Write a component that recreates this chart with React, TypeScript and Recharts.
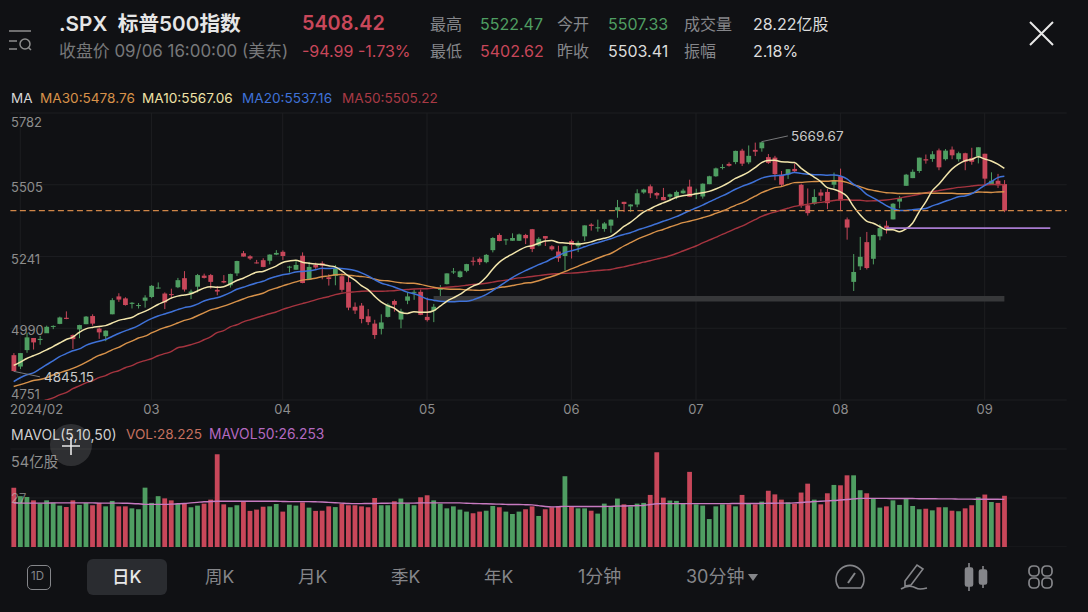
import React from 'react';
import { Bar, CartesianGrid, Cell, ComposedChart, Line, ReferenceLine, XAxis, YAxis } from 'recharts';

const opens = [
  4899, 4861, 4916, 4957, 4950, 4973, 4995, 5005, 5026, 4967,
  4986, 5004, 5032, 4989, 4963, 5038, 5100, 5093, 5074, 5067,
  5085, 5098, 5131, 5110, 5108, 5132, 5164, 5111, 5134, 5173,
  5175, 5123, 5154, 5139, 5181, 5253, 5242, 5220, 5228, 5226,
  5248, 5258, 5204, 5194, 5244, 5158, 5211, 5217, 5167, 5172,
  5171, 5150, 5064, 5068, 5031, 5006, 4988, 5029, 5084, 5020,
  5085, 5114, 5116, 5029, 5050, 5123, 5143, 5187, 5168, 5190,
  5226, 5233, 5221, 5264, 5319, 5302, 5298, 5298, 5319, 5340,
  5281, 5315, 5278, 5259, 5243, 5297, 5278, 5314, 5357, 5343,
  5341, 5353, 5409, 5441, 5424, 5431, 5476, 5499, 5474, 5459,
  5460, 5460, 5473, 5498, 5471, 5461, 5507, 5537, 5572, 5584,
  5591, 5635, 5590, 5638, 5644, 5610, 5608, 5543, 5544, 5565,
  5505, 5428, 5434, 5476, 5478, 5505, 5537, 5376, 5151, 5206,
  5293, 5233, 5314, 5353, 5376, 5442, 5501, 5530, 5557, 5602,
  5603, 5636, 5602, 5639, 5602, 5625, 5607, 5613, 5623, 5506,
  5520, 5507.33,
];
const highs = [
  4906, 4906, 4975, 4957, 4964, 4999, 5000, 5030, 5048, 4969,
  5002, 5032, 5038, 4993, 4983, 5094, 5111, 5097, 5080, 5077,
  5104, 5140, 5149, 5114, 5127, 5165, 5189, 5124, 5179, 5180,
  5179, 5136, 5175, 5180, 5226, 5261, 5246, 5229, 5235, 5249,
  5264, 5263, 5208, 5229, 5256, 5222, 5219, 5224, 5178, 5211,
  5181, 5168, 5079, 5077, 5056, 5019, 5038, 5076, 5089, 5057,
  5114, 5124, 5124, 5096, 5074, 5140, 5181, 5200, 5191, 5215,
  5239, 5238, 5250, 5311, 5325, 5305, 5325, 5324, 5323, 5341,
  5311, 5315, 5282, 5280, 5280, 5302, 5298, 5354, 5362, 5375,
  5366, 5376, 5448, 5441, 5432, 5488, 5490, 5506, 5478, 5493,
  5472, 5483, 5490, 5524, 5490, 5510, 5539, 5570, 5583, 5590,
  5635, 5642, 5655, 5666, 5669.67, 5622, 5615, 5557, 5564, 5585,
  5509, 5491, 5488, 5488, 5489, 5551, 5566, 5383, 5250, 5312,
  5330, 5320, 5358, 5371, 5436, 5463, 5546, 5563, 5608, 5620,
  5633, 5643, 5641, 5651, 5631, 5627, 5646, 5648, 5623, 5552,
  5546, 5522.47,
];
const lows = [
  4845.15, 4853, 4907, 4918, 4934, 4974, 4987, 5004, 5021, 4920,
  4956, 5004, 4999, 4954, 4946, 5038, 5081, 5068, 5058, 5058,
  5061, 5094, 5127, 5056, 5092, 5129, 5117, 5091, 5114, 5163,
  5127, 5104, 5146, 5131, 5172, 5241, 5229, 5216, 5203, 5213,
  5246, 5229, 5184, 5194, 5146, 5157, 5197, 5160, 5138, 5139,
  5116, 5052, 5039, 5007, 5001, 4954, 4969, 5027, 5047, 4990,
  5073, 5088, 5035, 5013, 5011, 5100, 5142, 5179, 5165, 5185,
  5209, 5211, 5217, 5256, 5296, 5283, 5298, 5297, 5286, 5257,
  5278, 5279, 5262, 5222, 5191, 5234, 5257, 5297, 5335, 5331,
  5331, 5327, 5382, 5403, 5403, 5421, 5471, 5455, 5452, 5447,
  5446, 5451, 5471, 5460, 5451, 5453, 5507, 5535, 5563, 5574,
  5583, 5576, 5583, 5614, 5631, 5584, 5522, 5497, 5527, 5550,
  5419, 5390, 5430, 5444, 5414, 5493, 5410, 5302, 5119, 5193,
  5195, 5213, 5300, 5324, 5376, 5417, 5501, 5530, 5550, 5585,
  5592, 5560, 5597, 5602, 5593, 5560, 5581, 5586, 5504, 5504,
  5493, 5402.62,
];
const closes = [
  4846, 4906, 4959, 4942, 4954, 4995, 4998, 5027, 5022, 4953,
  5001, 5030, 5006, 4976, 4982, 5087, 5089, 5070, 5078, 5070,
  5096, 5137, 5131, 5079, 5105, 5157, 5124, 5117, 5175, 5165,
  5151, 5117, 5149, 5179, 5225, 5241, 5234, 5218, 5204, 5248,
  5254, 5243, 5205, 5211, 5147, 5204, 5202, 5209, 5161, 5199,
  5123, 5061, 5051, 5022, 5011, 4967, 5010, 5071, 5071, 5048,
  5100, 5116, 5036, 5018, 5064, 5128, 5181, 5188, 5188, 5214,
  5223, 5221, 5247, 5308, 5297, 5303, 5308, 5321, 5307, 5268,
  5305, 5306, 5267, 5235, 5278, 5283, 5291, 5354, 5352, 5347,
  5361, 5375, 5421, 5433, 5431, 5473, 5487, 5473, 5465, 5447,
  5469, 5478, 5483, 5460, 5475, 5509, 5537, 5567, 5572, 5577,
  5634, 5585, 5615, 5631, 5667, 5588, 5545, 5505, 5564, 5556,
  5427, 5399, 5459, 5464, 5436, 5522, 5446, 5346, 5186, 5240,
  5200, 5319, 5344, 5344, 5434, 5455, 5543, 5554, 5608, 5597,
  5621, 5571, 5635, 5617, 5625, 5592, 5592, 5648, 5528, 5520,
  5503, 5408.42,
];
const ma10 = [
  4865, 4876, 4888, 4897, 4906, 4917, 4928, 4940, 4952, 4960,
  4976, 4988, 4993, 4996, 4999, 5008, 5017, 5022, 5027, 5039,
  5048, 5059, 5072, 5082, 5094, 5101, 5105, 5109, 5119, 5129,
  5134, 5132, 5134, 5144, 5156, 5164, 5175, 5185, 5188, 5197,
  5207, 5220, 5225, 5228, 5221, 5217, 5214, 5213, 5208, 5204,
  5190, 5172, 5157, 5138, 5124, 5101, 5081, 5068, 5059, 5044,
  5041, 5047, 5045, 5045, 5050, 5066, 5083, 5095, 5107, 5123,
  5136, 5146, 5167, 5196, 5220, 5237, 5250, 5263, 5275, 5280,
  5289, 5297, 5299, 5292, 5290, 5288, 5286, 5289, 5294, 5302,
  5307, 5314, 5330, 5350, 5365, 5384, 5403, 5415, 5427, 5437,
  5447, 5458, 5464, 5467, 5471, 5475, 5480, 5489, 5500, 5513,
  5529, 5540, 5553, 5570, 5589, 5597, 5598, 5592, 5591, 5589,
  5568, 5550, 5534, 5517, 5494, 5488, 5478, 5462, 5424, 5393,
  5370, 5362, 5350, 5338, 5338, 5331, 5341, 5362, 5404, 5440,
  5482, 5507, 5536, 5564, 5583, 5596, 5601, 5611, 5603, 5595,
  5583, 5567.06,
];
const ma20 = [
  4811, 4824, 4834, 4840, 4853, 4867, 4880, 4894, 4904, 4914,
  4920, 4932, 4940, 4946, 4952, 4962, 4972, 4981, 4989, 4999,
  5012, 5023, 5032, 5039, 5046, 5054, 5061, 5065, 5073, 5084,
  5091, 5095, 5103, 5113, 5125, 5132, 5140, 5147, 5153, 5163,
  5170, 5176, 5180, 5186, 5188, 5190, 5194, 5199, 5198, 5200,
  5198, 5196, 5191, 5183, 5172, 5159, 5147, 5140, 5133, 5124,
  5115, 5109, 5101, 5091, 5087, 5083, 5082, 5081, 5083, 5083,
  5088, 5096, 5106, 5120, 5135, 5151, 5166, 5179, 5191, 5201,
  5212, 5221, 5233, 5244, 5255, 5262, 5268, 5276, 5284, 5291,
  5298, 5305, 5314, 5321, 5327, 5336, 5344, 5352, 5360, 5369,
  5377, 5386, 5397, 5408, 5418, 5429, 5441, 5452, 5463, 5475,
  5488, 5499, 5508, 5518, 5530, 5536, 5539, 5540, 5545, 5551,
  5548, 5545, 5543, 5543, 5541, 5542, 5538, 5527, 5507, 5491,
  5469, 5456, 5442, 5427, 5416, 5409, 5409, 5412, 5414, 5416,
  5426, 5434, 5443, 5451, 5460, 5463, 5471, 5486, 5503, 5517,
  5532, 5537.16,
];
const ma30 = [
  4795, 4801, 4808, 4815, 4818, 4824, 4833, 4840, 4847, 4855,
  4864, 4875, 4887, 4898, 4906, 4917, 4925, 4937, 4946, 4957,
  4963, 4974, 4984, 4992, 4999, 5008, 5017, 5023, 5033, 5043,
  5053, 5059, 5066, 5074, 5083, 5091, 5099, 5105, 5111, 5122,
  5129, 5137, 5144, 5151, 5157, 5160, 5164, 5169, 5172, 5176,
  5177, 5175, 5172, 5170, 5167, 5161, 5156, 5155, 5151, 5148,
  5146, 5146, 5142, 5137, 5132, 5128, 5126, 5125, 5125, 5123,
  5122, 5121, 5123, 5126, 5131, 5134, 5138, 5142, 5147, 5149,
  5155, 5163, 5170, 5178, 5187, 5197, 5206, 5216, 5225, 5235,
  5244, 5252, 5265, 5279, 5291, 5303, 5313, 5322, 5332, 5339,
  5348, 5356, 5364, 5369, 5375, 5382, 5389, 5398, 5407, 5417,
  5428, 5437, 5449, 5462, 5475, 5485, 5494, 5498, 5506, 5513,
  5514, 5516, 5517, 5518, 5518, 5520, 5519, 5514, 5505, 5498,
  5489, 5484, 5479, 5475, 5474, 5472, 5472, 5472, 5473, 5474,
  5473, 5473, 5473, 5473, 5471, 5471, 5473, 5478, 5477, 5476,
  5478, 5478.76,
];
const ma50 = [
  4722, 4728, 4735, 4741, 4745, 4751, 4758, 4768, 4775, 4788,
  4797, 4807, 4814, 4824, 4831, 4841, 4847, 4857, 4864, 4874,
  4881, 4887, 4897, 4904, 4911, 4924, 4928, 4934, 4941, 4951,
  4961, 4975, 4982, 4995, 5002, 5012, 5019, 5026, 5033, 5040,
  5046, 5055, 5062, 5069, 5075, 5081, 5088, 5094, 5099, 5106,
  5111, 5114, 5116, 5118, 5119, 5118, 5118, 5119, 5120, 5123,
  5124, 5126, 5127, 5127, 5129, 5130, 5132, 5134, 5136, 5139,
  5142, 5143, 5146, 5150, 5154, 5157, 5161, 5165, 5167, 5170,
  5173, 5176, 5179, 5180, 5181, 5182, 5183, 5186, 5189, 5191,
  5193, 5195, 5200, 5204, 5210, 5215, 5221, 5226, 5232, 5237,
  5244, 5252, 5261, 5270, 5279, 5290, 5300, 5310, 5321, 5331,
  5342, 5351, 5363, 5375, 5387, 5396, 5403, 5410, 5417, 5424,
  5428, 5432, 5436, 5439, 5442, 5446, 5449, 5449, 5447, 5447,
  5444, 5445, 5446, 5448, 5451, 5455, 5460, 5464, 5469, 5474,
  5479, 5483, 5487, 5491, 5495, 5497, 5500, 5503, 5504, 5506,
  5506, 5505.22,
];
const volumes = [
  32.7, 28, 27.6, 25.7, 23.9, 25.7, 24.4, 22.8, 22, 25.7,
  23.2, 24.3, 23, 24.3, 22.4, 25.4, 22.4, 22.4, 21.3, 20.8,
  32.7, 24.3, 28, 26.8, 25.7, 23.9, 23.9, 21.9, 22.8, 23.9,
  26.1, 51.1, 23.5, 21.9, 23, 24.8, 19.9, 20.6, 22.2, 22.4,
  23.7, 19.5, 23.3, 22.8, 24.6, 21.7, 19.9, 20, 22.4, 22,
  23.9, 23, 23, 22.4, 21.9, 27, 23, 23, 25.2, 26.7,
  23.9, 23, 27.4, 28.5, 25.7, 23.9, 21.3, 22.4, 20.6, 19.5,
  18.6, 19.5, 20, 22.6, 21.9, 19.5, 18.2, 19.5, 20.8, 22.4,
  17.1, 20.8, 21.9, 22.4, 39, 22.4, 21.3, 21.3, 20, 18.4,
  23.9, 22.4, 26.7, 23.5, 22.4, 23.9, 24.3, 28.7, 52.2, 27.2,
  25.6, 25.4, 23.7, 41.4, 23.5, 22.8, 15.4, 22.4, 23.5, 23.5,
  22.4, 28.7, 23.9, 23.5, 25, 31, 29, 26.1, 24.6, 23.9,
  30, 34.9, 26.1, 23.5, 29.6, 34.2, 34, 39.5, 39.5, 31.3,
  29.6, 26.8, 21.7, 22.4, 25.7, 23.2, 26.7, 22.6, 20.8, 21.1,
  20.2, 21.9, 21.9, 20, 19.7, 21.3, 23, 27.4, 28.9, 24.8,
  24.3, 28.225,
];
const mavol50 = [
  24.2, 24.2, 24.2, 24.2, 24.2, 24.2, 24.3, 24.3, 24.3, 24.3,
  24.3, 24.3, 24.3, 24.2, 24.2, 24.2, 24.2, 24.1, 24, 23.8,
  23.5, 23.5, 23.5, 23.5, 23.6, 23.8, 24, 24.3, 24.6, 24.9,
  25.1, 25.2, 25.2, 25.2, 25.2, 25.2, 25.2, 25.2, 25.2, 25.2,
  25.2, 25.1, 25, 25, 25, 25, 24.9, 24.8, 24.6, 24.4,
  24.2, 24, 23.9, 23.9, 24, 24, 24.1, 24.1, 24.2, 24.2,
  24.2, 24.2, 24.3, 24.3, 24.3, 24.3, 24.3, 24.3, 24.3, 24.1,
  24, 23.9, 23.8, 23.7, 23.6, 23.5, 23.4, 23.4, 23.3, 23.2,
  22.8, 22.3, 22.1, 22.2, 22.4, 22.4, 22.3, 22.3, 22.3, 22.3,
  22.3, 22.4, 22.5, 22.6, 22.7, 22.8, 22.9, 23.4, 23.8, 23.9,
  23.9, 23.9, 23.9, 23.9, 23.9, 23.9, 23.9, 23.9, 23.9, 23.9,
  24, 24, 24, 24, 24, 24.1, 24.1, 24.2, 24.2, 24.3,
  24.5, 24.8, 25, 25.2, 25.4, 25.6, 25.9, 26.2, 26.5, 26.8,
  26.8, 26.8, 26.8, 26.8, 26.7, 26.7, 26.7, 26.7, 26.6, 26.6,
  26.6, 26.5, 26.5, 26.5, 26.4, 26.4, 26.4, 26.3, 26.3, 26.3,
  26.3, 26.253,
];

const emptySlots = 9;
const monthTicks = [1, 21, 41, 63, 85, 104, 126, 148];
const monthLabels = ['2024/02', '03', '04', '05', '06', '07', '08', '09'];
const priceTicks = [5782, 5505, 5241, 4990, 4751];
const volumeTicks = [54, 27, 0];
const lastPrice = 5408.42;

const BG = '#101114';
const GRID = '#1d1e21';
const UP = '#4f9e62';
const DOWN = '#c8475a';

const priceData = Array.from({ length: closes.length + emptySlots }, (_, i) =>
  i < closes.length
    ? { i, open: opens[i], close: closes[i], range: [lows[i], highs[i]], ma10: ma10[i], ma20: ma20[i], ma30: ma30[i], ma50: ma50[i] }
    : { i },
);
const volumeData = Array.from({ length: closes.length + emptySlots }, (_, i) =>
  i < closes.length ? { i, vol: volumes[i], mavol50: mavol50[i] } : { i },
);

const Candle = (props: any) => {
  const { x, y, width, height, payload } = props;
  if (!payload || payload.open === undefined || !height) return null;
  const [low, high] = payload.range;
  // price axis is logarithmic, so body edges are placed on the same log scale
  const pos = (v: number) => y + (height * (Math.log(high) - Math.log(v))) / (Math.log(high) - Math.log(low));
  const color = payload.close >= payload.open ? UP : DOWN;
  const cx = x + width / 2;
  const top = pos(Math.max(payload.open, payload.close));
  const bottom = pos(Math.min(payload.open, payload.close));
  return (
    <g>
      <line x1={cx} x2={cx} y1={y} y2={y + height} stroke={color} strokeWidth={1} />
      <rect x={cx - 2.4} y={top} width={4.8} height={Math.max(bottom - top, 1)} fill={color} />
    </g>
  );
};

const MonthTick = ({ x, payload, index }: any) => (
  <text
    x={index === 0 ? 10 : x}
    y={409}
    textAnchor={index === 0 ? 'start' : 'middle'}
    dominantBaseline="central"
    fontSize={13}
    fill="#8d8d8d"
  >
    {monthLabels[monthTicks.indexOf(payload.value)]}
  </text>
);

const PriceTick = ({ y, payload }: any) => {
  const shift = payload.value === 5782 ? 9 : payload.value === 4751 ? -6 : 2;
  return (
    <text x={11} y={y + shift} dominantBaseline="central" fontSize={13} fill="#8d8d8d">
      {payload.value}
    </text>
  );
};

// 27 sits over the bars in the reference, the axis layer is under them, so it goes in the overlay below
const VolumeTick = ({ y, payload }: any) => {
  if (payload.value !== 54) return null;
  return (
    <text x={11} y={y + 12} dominantBaseline="central" fontSize={14.5} fill="#8d8d8d">
      54亿股
    </text>
  );
};

const Txt = ({ x, y, color, size = 16, weight = 400, children }: any) => (
  <div
    style={{
      position: 'absolute',
      left: x,
      top: y,
      transform: 'translateY(-50%)',
      color,
      fontSize: size,
      fontWeight: weight,
      whiteSpace: 'pre',
      lineHeight: 1,
    }}
  >
    {children}
  </div>
);

const Header = () => (
  <>
    <svg style={{ position: 'absolute', left: 8, top: 28 }} width={26} height={26} fill="none" stroke="#8d8d8d" strokeWidth={1.5}>
      <path d="M1 3H23M1 13H9M1 21H9" />
      <circle cx={17} cy={16} r={5} />
      <path d="M20.5 19.5L23 22" />
    </svg>
    <Txt x={59} y={24} color="#e6e6e6" size={20.7} weight={600}>.SPX  标普500指数</Txt>
    <Txt x={302} y={24} color={DOWN} size={19.8} weight={600}>5408.42</Txt>
    <Txt x={59} y={51} color="#77787a" size={16.9}>收盘价 09/06 16:00:00 (美东)</Txt>
    <Txt x={302} y={51} color={DOWN} size={16}>-94.99 -1.73%</Txt>
    <Txt x={430} y={24} color="#85868a">最高</Txt>
    <Txt x={480} y={24} color={UP}>5522.47</Txt>
    <Txt x={430} y={51} color="#85868a">最低</Txt>
    <Txt x={480} y={51} color={DOWN}>5402.62</Txt>
    <Txt x={557} y={24} color="#85868a">今开</Txt>
    <Txt x={608} y={24} color={UP}>5507.33</Txt>
    <Txt x={557} y={51} color="#85868a">昨收</Txt>
    <Txt x={608} y={51} color="#dcdcdc">5503.41</Txt>
    <Txt x={684} y={24} color="#85868a">成交量</Txt>
    <Txt x={753} y={24} color="#dcdcdc">28.22亿股</Txt>
    <Txt x={684} y={51} color="#85868a">振幅</Txt>
    <Txt x={753} y={51} color="#dcdcdc">2.18%</Txt>
    <svg style={{ position: 'absolute', left: 1029, top: 21 }} width={25} height={25} stroke="#e8e8e8" strokeWidth={2}>
      <path d="M1 1L24 24M24 1L1 24" />
    </svg>
    <Txt x={11} y={99} color="#d6d6d6" size={13.5}>MA</Txt>
    <Txt x={40} y={99} color="#d8924a" size={13.6}>MA30:5478.76</Txt>
    <Txt x={142} y={99} color="#efe2a6" size={13.6}>MA10:5567.06</Txt>
    <Txt x={242} y={99} color="#3f72d8" size={13.6}>MA20:5537.16</Txt>
    <Txt x={342} y={99} color="#a83a45" size={13.6}>MA50:5505.22</Txt>
    <Txt x={791} y={137} color="#c9c9c9" size={13.5}>5669.67</Txt>
    <Txt x={44} y={378} color="#c9c9c9" size={13.5}>4845.15</Txt>
    <Txt x={11} y={435} color="#cfcfcf" size={14}>MAVOL(5,10,50)</Txt>
    <Txt x={126} y={435} color="#c4705f" size={13.6}>VOL:28.225</Txt>
    <Txt x={209} y={435} color="#b469c0" size={13.8}>MAVOL50:26.253</Txt>
    <Txt x={11} y={498} color="rgba(190,190,190,0.6)" size={13}>27</Txt>
  </>
);

const Footer = () => (
  <>
    <div style={{ position: 'absolute', left: 27, top: 565, width: 22, height: 23, border: '1.5px solid #85868a', borderRadius: 5 }} />
    <Txt x={31} y={577} color="#85868a" size={11.5}>1D</Txt>
    <div style={{ position: 'absolute', left: 87, top: 559, width: 80, height: 36, background: '#2a2c30', borderRadius: 6 }} />
    <Txt x={112} y={577} color="#e8e8e8" size={17.5} weight={500}>日K</Txt>
    <Txt x={205} y={577} color="#85868a" size={17.5}>周K</Txt>
    <Txt x={298} y={577} color="#85868a" size={17.5}>月K</Txt>
    <Txt x={391} y={577} color="#85868a" size={17.5}>季K</Txt>
    <Txt x={484} y={577} color="#85868a" size={17.5}>年K</Txt>
    <Txt x={578} y={577} color="#85868a" size={18}>1分钟</Txt>
    <Txt x={686} y={577} color="#85868a" size={18}>30分钟</Txt>
    <svg style={{ position: 'absolute', left: 747, top: 574 }} width={12} height={8} fill="#85868a">
      <path d="M1 0H11L6 7Z" />
    </svg>
    <svg style={{ position: 'absolute', left: 834, top: 562 }} width={32} height={30} fill="none" stroke="#85868a" strokeWidth={1.6}>
      <path d="M5 26A14 14 0 1 1 27 26H5Z" />
      <path d="M14 21L21 11" strokeWidth={2} />
    </svg>
    <svg style={{ position: 'absolute', left: 899, top: 562 }} width={30} height={30} fill="none" stroke="#85868a" strokeWidth={1.6}>
      <path d="M6 19L18 3L24 7L12 23L6 24Z" />
      <path d="M2 27C8 23 14 24 17 26C20 28 24 27 28 26" />
    </svg>
    <svg style={{ position: 'absolute', left: 963, top: 562 }} width={28} height={30} fill="#85868a" stroke="#85868a" strokeWidth={1.6}>
      <path d="M6 1V29M20 4V26" />
      <rect x={2.5} y={6} width={7} height={18} rx={1.5} />
      <rect x={16.5} y={8} width={7} height={14} rx={1.5} />
    </svg>
    <svg style={{ position: 'absolute', left: 1027, top: 564 }} width={27} height={26} fill="none" stroke="#85868a" strokeWidth={1.7}>
      <rect x={2} y={2} width={10} height={10} rx={4} />
      <rect x={15} y={2} width={10} height={10} rx={4} />
      <rect x={2} y={14} width={10} height={10} rx={4} />
      <rect x={15} y={14} width={10} height={10} rx={4} />
    </svg>
  </>
);

export default function App() {
  return (
    <div
      style={{
        position: 'absolute',
        left: 0,
        top: 0,
        width: 1088,
        height: 612,
        overflow: 'hidden',
        background: BG,
        fontFamily: 'Inter, "Noto Sans CJK SC", sans-serif',
      }}
    >
      <div style={{ position: 'absolute', left: 0, top: 0 }}>
        <ComposedChart
          width={1088}
          height={420}
          data={priceData}
          barCategoryGap={0}
          margin={{ top: 113, left: 9.4, right: 21.3, bottom: 0 }}
        >
          <CartesianGrid stroke={GRID} syncWithTicks />
          <XAxis dataKey="i" ticks={monthTicks} interval={0} height={20} axisLine={false} tickLine={false} tick={<MonthTick />} />
          <YAxis
            scale="log"
            domain={[4751, 5782]}
            ticks={priceTicks}
            interval={0}
            allowDataOverflow
            width={1}
            axisLine={false}
            tickLine={false}
            tick={<PriceTick />}
          />
          <ReferenceLine segment={[{ x: 64, y: 5092 }, { x: 151, y: 5092 }]} stroke="#37383a" strokeWidth={5.5} />
          <Bar dataKey="range" shape={<Candle />} isAnimationActive={false} />
          <Line dataKey="ma50" stroke="#a5343f" strokeWidth={1.4} dot={false} type="monotone" isAnimationActive={false} />
          <Line dataKey="ma30" stroke="#d8924a" strokeWidth={1.4} dot={false} type="monotone" isAnimationActive={false} />
          <Line dataKey="ma20" stroke="#3f72d8" strokeWidth={1.5} dot={false} type="monotone" isAnimationActive={false} />
          <Line dataKey="ma10" stroke="#f3e6ac" strokeWidth={1.5} dot={false} type="monotone" isAnimationActive={false} />
          <ReferenceLine y={lastPrice} stroke="#d08648" strokeWidth={1.2} strokeDasharray="6 3.5" />
          <ReferenceLine segment={[{ x: 133, y: 5344 }, { x: 158, y: 5344 }]} stroke="#a87bd0" strokeWidth={1.6} />
          <ReferenceLine segment={[{ x: 114, y: 5669.67 }, { x: 118, y: 5692 }]} stroke="#77787a" strokeWidth={1} />
          <ReferenceLine segment={[{ x: 0, y: 4845.15 }, { x: 4, y: 4827 }]} stroke="#77787a" strokeWidth={1} />
        </ComposedChart>
      </div>
      <div style={{ position: 'absolute', left: 0, top: 440 }}>
        <ComposedChart
          width={1088}
          height={107}
          data={volumeData}
          barCategoryGap={0}
          margin={{ top: 9, left: 9.4, right: 21.3, bottom: 0 }}
        >
          <CartesianGrid stroke={GRID} syncWithTicks />
          <XAxis dataKey="i" ticks={monthTicks} interval={0} height={0} axisLine={false} tickLine={false} tick={false} />
          <YAxis domain={[0, 54]} ticks={volumeTicks} interval={0} width={1} axisLine={false} tickLine={false} tick={<VolumeTick />} />
          <Bar dataKey="vol" barSize={4.8} isAnimationActive={false}>
            {volumeData.map((_entry, index) => (
              <Cell key={`vol-${index}`} fill={index < closes.length && closes[index] >= opens[index] ? UP : DOWN} />
            ))}
          </Bar>
          <Line dataKey="mavol50" stroke="#c77ac0" strokeWidth={1.4} dot={false} type="monotone" isAnimationActive={false} />
        </ComposedChart>
      </div>
      <Header />
      <div style={{ position: 'absolute', left: 50, top: 424, width: 42, height: 42, borderRadius: 21, background: 'rgba(255,255,255,0.13)' }} />
      <svg style={{ position: 'absolute', left: 62, top: 437 }} width={18} height={18} stroke="#e8e8e8" strokeWidth={1.6}>
        <path d="M9 0V18M0 9H18" />
      </svg>
      <Footer />
    </div>
  );
}
